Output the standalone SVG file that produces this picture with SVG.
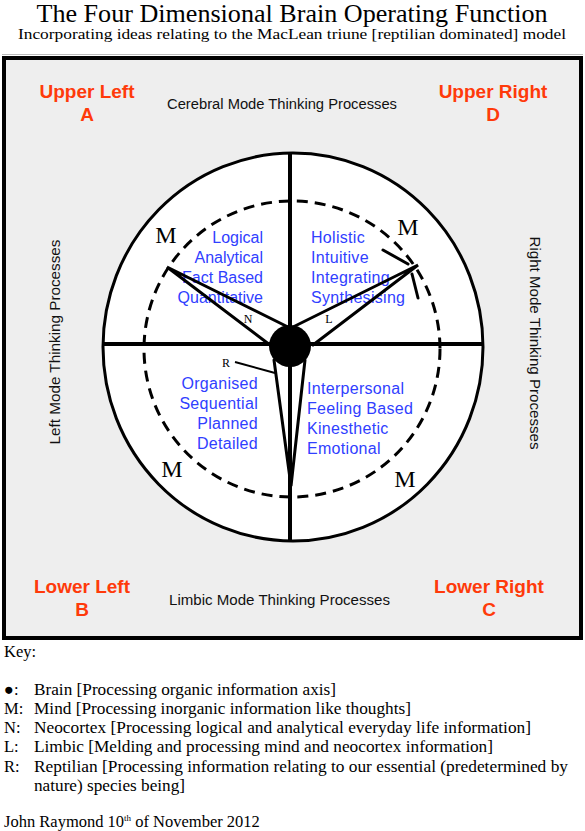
<svg xmlns="http://www.w3.org/2000/svg" width="585" height="831" viewBox="0 0 585 831">
<style>
.serif{font-family:"Liberation Serif","Times New Roman",serif;fill:#000}
.red{font-family:"Liberation Sans",Arial,sans-serif;font-weight:bold;font-size:19px;fill:#ff3a0a;text-anchor:middle}
.mode{font-family:"Liberation Sans",Arial,sans-serif;font-size:14px;fill:#111}
.blue{font-family:"Liberation Sans",Arial,sans-serif;font-size:16px;fill:#3040ff}
.spoke{stroke:#000;stroke-width:3;fill:none;stroke-linecap:round}
.key{font-family:"Liberation Serif","Times New Roman",serif;font-size:16.5px;fill:#000}
</style>
<rect width="585" height="831" fill="#fff"/>
<g id="title">
<text class="serif" x="292" y="22" font-size="25" text-anchor="middle" textLength="511" lengthAdjust="spacingAndGlyphs">The Four Dimensional Brain Operating Function</text>
<text class="serif" x="292" y="39" font-size="15" text-anchor="middle" textLength="548" lengthAdjust="spacingAndGlyphs">Incorporating ideas relating to the MacLean triune [reptilian dominated] model</text>
</g>
<g id="frame">
<line x1="2" y1="54.5" x2="583" y2="54.5" stroke="#bbb" stroke-width="1"/>
<rect x="4" y="58" width="577" height="580" fill="#eeeeee" stroke="#000" stroke-width="4"/>
<line x1="582" y1="57" x2="582" y2="640" stroke="#000" stroke-width="2"/>
</g>
<g id="corner-labels">
<text class="red" x="87" y="98">Upper Left</text>
<text class="red" x="87" y="121">A</text>
<text class="red" x="493" y="98">Upper Right</text>
<text class="red" x="493" y="121">D</text>
<text class="red" x="82" y="593">Lower Left</text>
<text class="red" x="82" y="616">B</text>
<text class="red" x="489" y="593">Lower Right</text>
<text class="red" x="489" y="616">C</text>
</g>
<g id="mode-labels">
<text class="mode" x="282" y="109" text-anchor="middle" textLength="230" lengthAdjust="spacingAndGlyphs">Cerebral Mode Thinking Processes</text>
<text class="mode" x="279.5" y="605" text-anchor="middle" textLength="221" lengthAdjust="spacingAndGlyphs">Limbic Mode Thinking Processes</text>
<text class="mode" transform="translate(60,342) rotate(-90)" text-anchor="middle" textLength="205" lengthAdjust="spacingAndGlyphs">Left Mode Thinking Processes</text>
<text class="mode" transform="translate(530,343) rotate(90)" text-anchor="middle" textLength="213" lengthAdjust="spacingAndGlyphs">Right Mode Thinking Processes</text>
</g>
<g id="brain-circle">
<ellipse cx="293" cy="347" rx="190" ry="194" fill="#fff" stroke="#000" stroke-width="3"/>
<circle cx="292" cy="349" r="148" fill="none" stroke="#000" stroke-width="3" stroke-dasharray="11 7"/>
<line x1="290" y1="153" x2="290" y2="541" stroke="#000" stroke-width="4"/>
<line x1="103" y1="344" x2="484" y2="344" stroke="#000" stroke-width="4"/>
</g>
<g id="quadrant-A">
<text class="blue" text-anchor="end"><tspan x="263" y="243">Logical</tspan><tspan x="263" y="263">Analytical</tspan><tspan x="263" y="283">Fact Based</tspan><tspan x="263" y="303">Quantitative</tspan></text>
</g>
<g id="quadrant-D">
<text class="blue" letter-spacing="0.3"><tspan x="311" y="243">Holistic</tspan><tspan x="311" y="263">Intuitive</tspan><tspan x="311" y="283">Integrating</tspan><tspan x="311" y="303">Synthesising</tspan></text>
</g>
<g id="quadrant-B">
<text class="blue" text-anchor="end" letter-spacing="0.3"><tspan x="258" y="389">Organised</tspan><tspan x="258" y="409">Sequential</tspan><tspan x="258" y="429">Planned</tspan><tspan x="258" y="449">Detailed</tspan></text>
</g>
<g id="quadrant-C">
<text class="blue" letter-spacing="0.3"><tspan x="307" y="394">Interpersonal</tspan><tspan x="307" y="414">Feeling Based</tspan><tspan x="307" y="434">Kinesthetic</tspan><tspan x="307" y="454">Emotional</tspan></text>
</g>
<g id="connectors">
<polyline class="spoke" points="288,327 167,267 270,345"/>
<polyline class="spoke" points="293,327 418,265 313,345"/>
<polyline class="spoke" points="274,360 291,486 305,360"/>
<line class="spoke" x1="383" y1="250" x2="408" y2="264"/>
<line class="spoke" x1="412" y1="274" x2="418" y2="298"/>
<line x1="235" y1="362" x2="275" y2="373" stroke="#000" stroke-width="2"/>
</g>
<g id="brain">
<circle cx="290" cy="346" r="21" fill="#000"/>
</g>
<g id="mind-labels">
<text class="serif" x="166" y="243" font-size="24" text-anchor="middle">M</text>
<text class="serif" x="408" y="235" font-size="24" text-anchor="middle">M</text>
<text class="serif" x="172" y="477" font-size="24" text-anchor="middle">M</text>
<text class="serif" x="405" y="487" font-size="24" text-anchor="middle">M</text>
</g>
<g id="spoke-labels">
<text class="serif" x="248" y="323" font-size="12" text-anchor="middle">N</text>
<text class="serif" x="329" y="323" font-size="12" text-anchor="middle">L</text>
<text class="serif" x="226" y="367" font-size="12" text-anchor="middle">R</text>
</g>
<g id="key">
<text class="key" x="4" y="657">Key:</text>
<text class="key" x="4" y="695">●:</text><text class="key" x="34" y="695" textLength="302" lengthAdjust="spacingAndGlyphs">Brain [Processing organic information axis]</text>
<text class="key" x="4" y="714">M:</text><text class="key" x="34" y="714" textLength="377" lengthAdjust="spacingAndGlyphs">Mind [Processing inorganic information like thoughts]</text>
<text class="key" x="4" y="733">N:</text><text class="key" x="34" y="733" textLength="497" lengthAdjust="spacingAndGlyphs">Neocortex [Processing logical and analytical everyday life information]</text>
<text class="key" x="4" y="752">L:</text><text class="key" x="34" y="752" textLength="459" lengthAdjust="spacingAndGlyphs">Limbic [Melding and processing mind and neocortex information]</text>
<text class="key" x="4" y="772">R:</text><text class="key" x="34" y="772" textLength="534" lengthAdjust="spacingAndGlyphs">Reptilian [Processing information relating to our essential (predetermined by</text>
<text class="key" x="34" y="791" textLength="151" lengthAdjust="spacingAndGlyphs">nature) species being]</text>
<text class="key" x="4" y="827" font-size="14.5">John Raymond 10<tspan dy="-6" font-size="9">th</tspan><tspan dy="6"> of November 2012</tspan></text>
</g>
</svg>
